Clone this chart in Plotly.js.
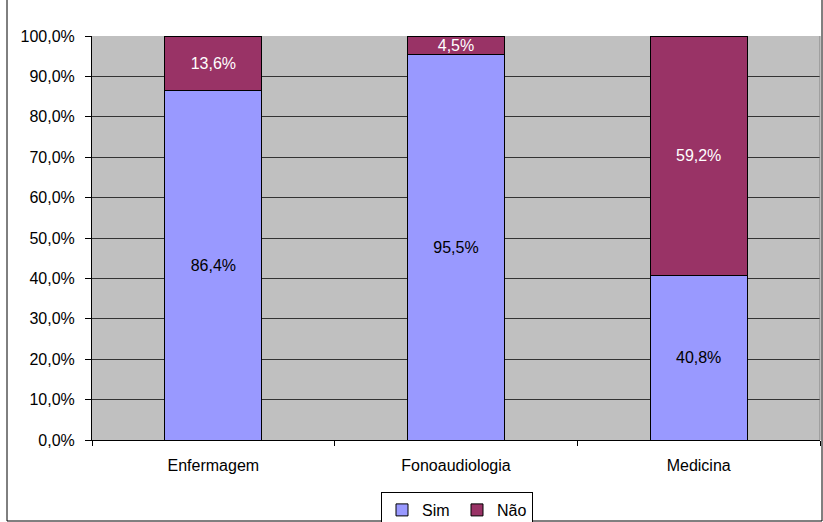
<!DOCTYPE html>
<html>
<head>
<meta charset="utf-8">
<script src="https://cdn.plot.ly/plotly-3.0.1.min.js"></script>
<style>html,body{margin:0;padding:0;background:#fff;}#chart{width:823px;height:522px;}</style>
</head>
<body>
<div id="chart"></div>
<script>
const categories = ["Enfermagem", "Fonoaudiologia", "Medicina"];
const simValues = [86.4, 95.5, 40.8];
const naoValues = [13.6, 4.5, 59.2];
const yTickValues = [0, 10, 20, 30, 40, 50, 60, 70, 80, 90, 100];
const yTickLabels = yTickValues.map(v => v.toFixed(1).replace(".", ",") + "%");

const font = {family: "Liberation Sans, Arial, sans-serif", size: 16, color: "#000"};

const traces = [
  {
    type: "bar", name: "Sim", x: categories, y: simValues,
    marker: {color: "#9999FF", line: {color: "#000", width: 1}},
    texttemplate: "%{y:.1f}%", textposition: "inside", insidetextanchor: "middle",
    textfont: {family: font.family, size: 16, color: "#000"}, constraintext: "none",
    width: 0.4
  },
  {
    type: "bar", name: "Não", x: categories, y: naoValues,
    marker: {color: "#993366", line: {color: "#000", width: 1}},
    texttemplate: "%{y:.1f}%", textposition: "inside", insidetextanchor: "middle",
    textfont: {family: font.family, size: 16, color: "#fff"}, constraintext: "none",
    width: 0.4
  }
];

const L = 92, R = 820, T = 36, B = 440;
const pw = R - L, ph = B - T;

const layout = {
  width: 823, height: 522,
  margin: {l: L, r: 823 - R, t: T, b: 522 - B, pad: 0},
  barmode: "stack",
  separators: ",.",
  paper_bgcolor: "#fff",
  plot_bgcolor: "#C0C0C0",
  font: font,
  showlegend: true,
  legend: {
    orientation: "h", traceorder: "normal",
    xref: "paper", x: (457 - L) / pw, xanchor: "center",
    yref: "container", y: 1 - 492 / 522, yanchor: "top",
    bordercolor: "#000", borderwidth: 1, bgcolor: "#fff",
    font: {family: font.family, size: 16, color: "#000"},
    itemwidth: 30, tracegroupgap: 0,
    entrywidthmode: "pixels", entrywidth: 30
  },
  xaxis: {
    type: "category", showgrid: false, showline: true, linecolor: "#000", linewidth: 1,
    ticks: "outside", tickson: "boundaries", ticklen: 5, tickcolor: "#000",
    ticklabelstandoff: 11, tickfont: font, fixedrange: true, automargin: false
  },
  yaxis: {
    range: [0, 100], tickmode: "array", tickvals: yTickValues, ticktext: yTickLabels,
    showgrid: true, gridcolor: "#333", gridwidth: 1,
    showline: true, linecolor: "#000", linewidth: 1, zeroline: false,
    ticks: "outside", ticklen: 6, tickcolor: "#000", ticklabelstandoff: 7,
    tickfont: font, fixedrange: true, automargin: false
  },
  shapes: [
    {type: "rect", xref: "paper", yref: "paper",
     x0: (7 - L) / pw, x1: (822 - L) / pw, y0: (B - 521) / ph, y1: (B + 10) / ph,
     line: {color: "#000", width: 1}, fillcolor: "rgba(0,0,0,0)", layer: "above"},
    {type: "line", xref: "paper", yref: "paper", x0: 1, x1: 1, y0: 0, y1: 1,
     line: {color: "#808080", width: 1}}
  ]
};

Plotly.newPlot("chart", traces, layout, {displayModeBar: false, staticPlot: true});
</script>
</body>
</html>
